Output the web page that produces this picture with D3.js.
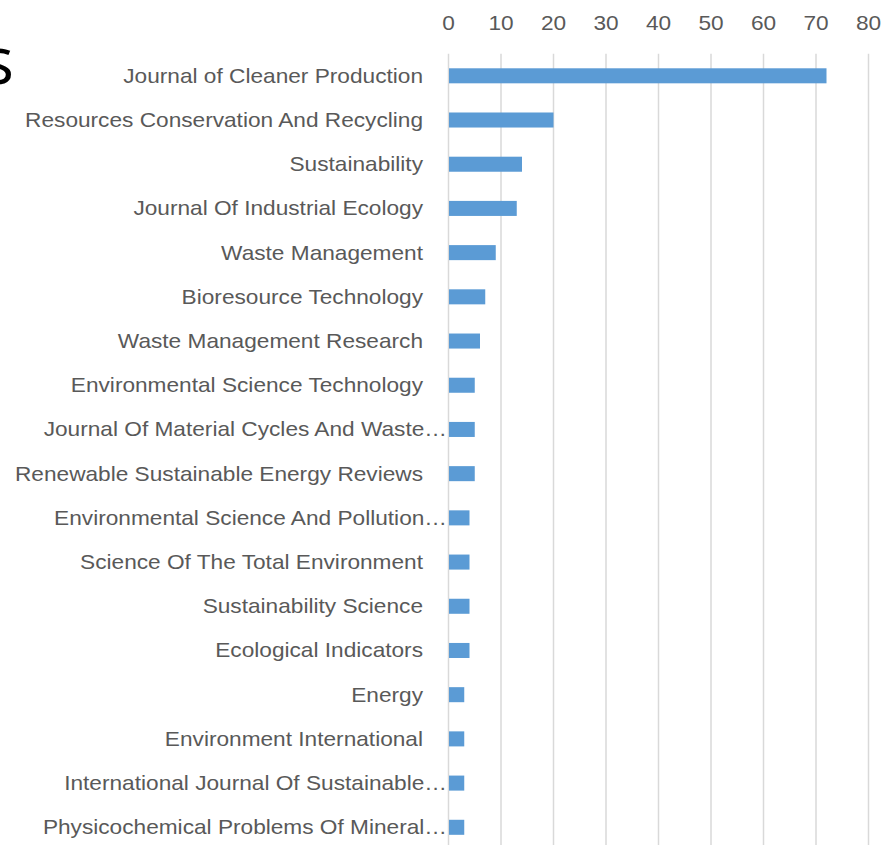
<!DOCTYPE html>
<html>
<head>
<meta charset="utf-8">
<script src="https://cdn.jsdelivr.net/npm/d3@7"></script>
<style>
  html, body { margin: 0; padding: 0; background: #ffffff; overflow: hidden; }
  svg { display: block; }
</style>
</head>
<body>
<svg id="chart" width="894" height="845"></svg>
<script>
const journals = [
  "Journal of Cleaner Production",
  "Resources Conservation And Recycling",
  "Sustainability",
  "Journal Of Industrial Ecology",
  "Waste Management",
  "Bioresource Technology",
  "Waste Management Research",
  "Environmental Science Technology",
  "Journal Of Material Cycles And Waste…",
  "Renewable Sustainable Energy Reviews",
  "Environmental Science And Pollution…",
  "Science Of The Total Environment",
  "Sustainability Science",
  "Ecological Indicators",
  "Energy",
  "Environment International",
  "International Journal Of Sustainable…",
  "Physicochemical Problems Of Mineral…"
];
const counts = [72, 20, 14, 13, 9, 7, 6, 5, 5, 5, 4, 4, 4, 4, 3, 3, 3, 3];
const tickValues = [0, 10, 20, 30, 40, 50, 60, 70, 80];
const titleFragment = "s";

(function () {
const svg = d3.select("#chart");
const plotLeft = 448.5, plotRight = 868.5;
const plotTop = 53.7, plotBottom = 849.4;

const x = d3.scaleLinear().domain([0, 80]).range([plotLeft, plotRight]);
const y = d3.scaleBand().domain(journals).range([plotTop, plotBottom]).paddingInner(0.66).paddingOuter(0.33);

const textColor = "#595959";
const font = "'Liberation Sans', Arial, sans-serif";

// gridlines
svg.append("g").selectAll("line").data(tickValues).join("line")
  .attr("x1", d => x(d)).attr("x2", d => x(d))
  .attr("y1", plotTop).attr("y2", plotBottom)
  .attr("stroke", "#d9d9d9").attr("stroke-width", 1.5);

// top axis labels
const xAxis = d3.axisTop(x).tickValues(tickValues).tickSize(0).tickPadding(0);
const gx = svg.append("g").attr("transform", "translate(0,30)").call(xAxis);
gx.select(".domain").remove();
gx.selectAll("text")
  .attr("fill", textColor).attr("font-size", 20).attr("font-family", font)
  .attr("dy", 0);

// bars
svg.append("g").selectAll("rect").data(journals).join("rect")
  .attr("x", x(0) + 0.5)
  .attr("y", d => y(d))
  .attr("width", (d, i) => x(counts[i]) - x(0) - 0.5)
  .attr("height", y.bandwidth())
  .attr("fill", "#5b9bd5");

// y labels
const labels = svg.append("g").selectAll("text").data(journals).join("text")
  .attr("text-anchor", "end")
  .attr("font-size", 20)
  .attr("font-family", font)
  .attr("fill", textColor)
  .attr("dy", "0.35em")
  .text(d => d);

const firstW = labels.nodes()[0].getComputedTextLength();
const k = 300 / firstW;
labels.attr("transform", d => {
  const ax = d.endsWith("…") ? 447 : 423;
  const cy = y(d) + y.bandwidth() / 2;
  return `translate(${ax},${cy}) scale(${k},1)`;
});
gx.selectAll(".tick").attr("transform", d => `translate(${x(d)},0) scale(${k},1)`);

// cropped title fragment
svg.append("text")
  .attr("x", 14).attr("y", 84)
  .attr("text-anchor", "end")
  .attr("font-size", 66)
  .attr("font-family", "'Open Sans', 'Noto Sans', sans-serif")
  .attr("fill", "#000")
  .text(titleFragment);
})();
</script>
</body>
</html>
